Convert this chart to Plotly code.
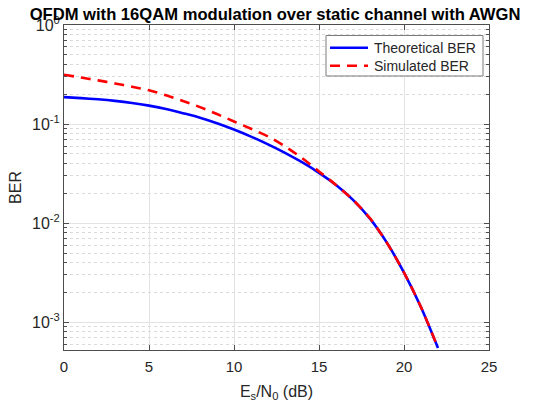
import plotly.graph_objects as go

# Es/N0 in dB
snr_db = [0, 1, 2, 3, 4, 5, 6, 7, 8, 9, 10, 11, 12, 13, 14, 15, 16, 17, 18, 19, 20, 21, 22]
ber_theory = [0.187, 0.1828, 0.1778, 0.1714, 0.1633, 0.1535, 0.1422, 0.1288, 0.1161, 0.1021,
              0.0881, 0.0748, 0.0625, 0.0513, 0.0412, 0.0322, 0.0243, 0.0172, 0.0111,
              0.00632, 0.00317, 0.00142, 0.00055]
ber_sim = [0.3148, 0.2951, 0.2761, 0.2570, 0.2382, 0.2193, 0.1954, 0.1714, 0.1483, 0.1262,
           0.1062, 0.0897, 0.0750, 0.0596, 0.0454, 0.0333, 0.0243, 0.0172, 0.0112,
           0.0063, 0.00317, 0.00142, 0.00055]
series_names = ["Theoretical BER", "Simulated BER"]

y_major = [1e-3, 1e-2, 1e-1, 1]
y_major_text = ["10<sup>-3</sup>", "10<sup>-2</sup>", "10<sup>-1</sup>", "10<sup>0</sup>"]
y_minor = [m * d for d in [1e-4, 1e-3, 1e-2, 1e-1] for m in range(2, 10)]

FONT = "Liberation Sans, Arial, sans-serif"
AX = "#4d4d4d"
TXT = "#262626"
BLUE = "#0000ff"
RED = "#ff0000"
RED_DASH = "10px,7px"

fig = go.Figure()
fig.add_trace(go.Scatter(x=snr_db, y=ber_theory, mode="lines", name=series_names[0],
                         line=dict(color=BLUE, width=2.6, shape="spline", smoothing=0.8)))
fig.add_trace(go.Scatter(x=snr_db, y=ber_sim, mode="lines", name=series_names[1],
                         line=dict(color=RED, width=2.6, dash=RED_DASH, shape="spline", smoothing=0.8)))

# legend box drawn in paper coordinates (upper right, inside the axes)
lg_x0, lg_x1, lg_y0, lg_y1 = 0.6165, 0.9859, 0.8431, 0.9677
row_y = [0.9302, 0.8748]
smp_x0, smp_x1, txt_x = 0.6259, 0.7153, 0.7247
shapes = [dict(type="rect", xref="paper", yref="paper", x0=lg_x0, x1=lg_x1, y0=lg_y0, y1=lg_y1,
               line=dict(color="#7a7a7a", width=1), fillcolor="white", layer="above")]
shapes.append(dict(type="line", xref="paper", yref="paper", x0=smp_x0, x1=smp_x1,
                   y0=row_y[0], y1=row_y[0], line=dict(color=BLUE, width=2.6), layer="above"))
shapes.append(dict(type="line", xref="paper", yref="paper", x0=smp_x0, x1=smp_x1,
                   y0=row_y[1], y1=row_y[1], line=dict(color=RED, width=2.6, dash=RED_DASH),
                   layer="above"))
annotations = [dict(text=series_names[i], xref="paper", yref="paper", x=txt_x, y=row_y[i],
                    xanchor="left", yanchor="middle", showarrow=False,
                    font=dict(size=14, color=TXT)) for i in range(2)]

fig.update_layout(
    width=533, height=402,
    margin=dict(l=64, r=44, t=25, b=52),
    paper_bgcolor="white", plot_bgcolor="white",
    font=dict(family=FONT, size=15, color=TXT),
    title=dict(text="<b>OFDM with 16QAM modulation over static channel with AWGN</b>",
               x=0.516, xanchor="center", y=0.978, yanchor="top", yref="container",
               font=dict(size=16.6, color="#000000")),
    showlegend=False,
    shapes=shapes,
    annotations=annotations,
)

fig.update_xaxes(
    range=[0, 25], dtick=5, tick0=0, automargin=False,
    showline=True, linecolor=AX, linewidth=1, mirror="allticks",
    ticks="inside", ticklen=5, tickcolor=AX, ticklabelstandoff=3,
    showgrid=True, gridcolor="#e3e3e3", gridwidth=1,
    zeroline=False,
    tickfont=dict(size=15, color=TXT),
    title=dict(text="E<sub>s</sub>/N<sub>0</sub> (dB)", font=dict(size=16, color=TXT), standoff=11),
)
fig.update_yaxes(
    type="log", range=[-3.28, 0], automargin=False,
    tickvals=y_major, ticktext=y_major_text,
    showline=True, linecolor=AX, linewidth=1, mirror="allticks",
    ticks="inside", ticklen=5, tickcolor=AX,
    showgrid=True, gridcolor="#e3e3e3", gridwidth=1,
    zeroline=False,
    tickfont=dict(size=16, color=TXT),
    minor=dict(tickvals=y_minor, ticks="inside", ticklen=3, tickcolor=AX,
               showgrid=True, gridcolor="#dadada", griddash="dot", gridwidth=1),
    title=dict(text="BER", font=dict(size=16, color=TXT), standoff=6),
)

fig.write_html("out.html", config={"displayModeBar": False},
               post_script="document.body.style.margin='0';document.body.style.overflow='hidden';")
